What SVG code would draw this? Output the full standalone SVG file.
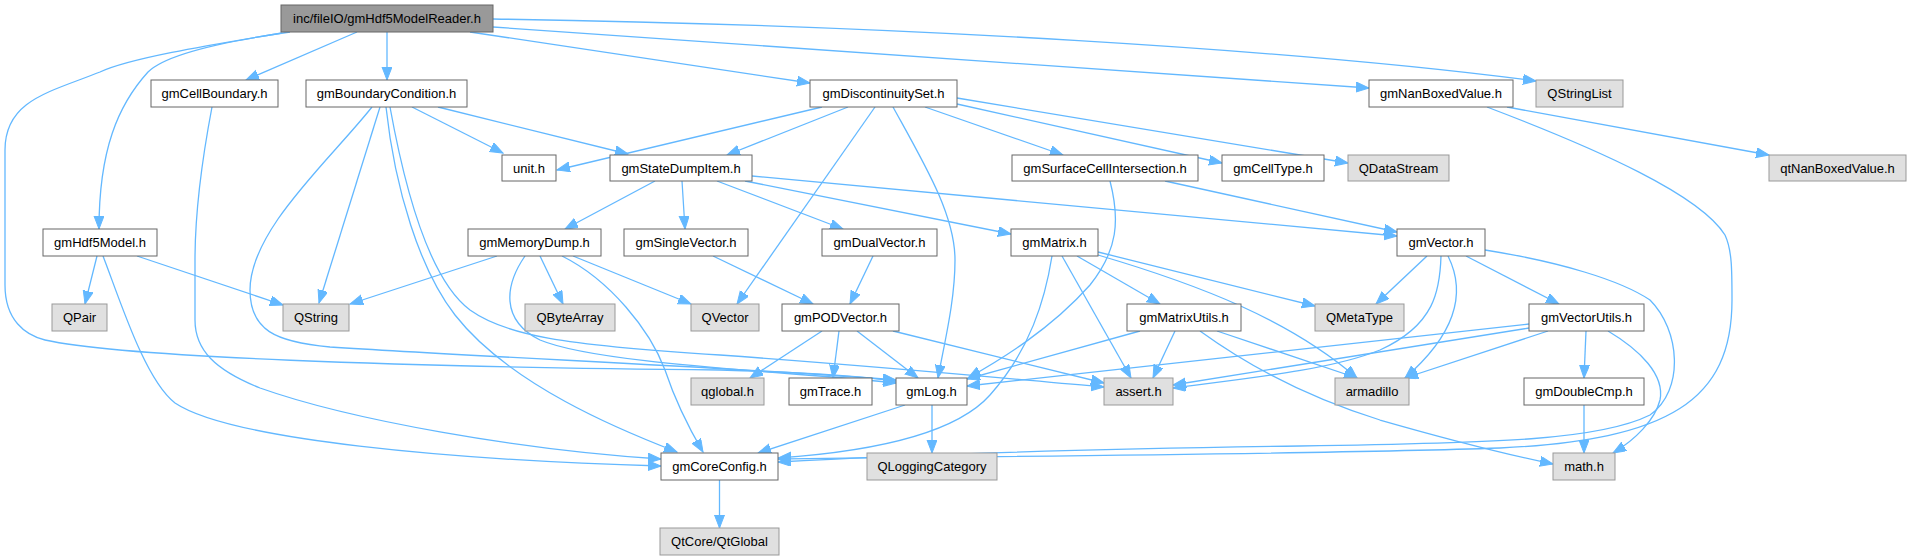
<svg xmlns="http://www.w3.org/2000/svg" width="1911" height="560" viewBox="0 0 1911 560">
<style>
.n rect{fill:#ffffff;stroke:#666666;stroke-width:1}
.x rect{fill:#e0e0e0;stroke:#999999;stroke-width:1}
.r rect{fill:#999999;stroke:#666666;stroke-width:1}
text{font-family:"Liberation Sans",Arial,sans-serif;font-size:13px;fill:#000000;text-anchor:middle}
#edges path{fill:none;stroke:#63b8ff;stroke-width:1.3;marker-end:url(#ah)}
</style>
<defs>
<marker id="ah" markerUnits="userSpaceOnUse" markerWidth="14" markerHeight="11" refX="13" refY="5" orient="auto">
<path d="M0,0 L13,5 L0,10 z" fill="#63b8ff" stroke="#63b8ff" stroke-width="1"/>
</marker>
</defs>
<rect width="1911" height="560" fill="#ffffff"/>
<g id="edges">
<path d="M290,32 C220,42 165,55 148,72 C118,105 99,150 99,229"/>
<path d="M282,33 C210,45 130,58 100,72 C50,92 5,100 5,150 L5,285 C5,320 25,335 45,340 C120,357 400,367 720,370 C800,372 860,376 896,381"/>
<path d="M357,32 L246,80"/>
<path d="M387,32 L387,80"/>
<path d="M470,32 L810,83"/>
<path d="M493,27 L1369,88"/>
<path d="M493,19 C900,25 1300,50 1536,81"/>
<path d="M212,107 C200,170 195,220 195,260 L195,320 C195,350 215,370 260,388 C350,420 520,450 661,459"/>
<path d="M412,107 L503,153"/>
<path d="M438,107 L628,154"/>
<path d="M380,107 L319,303"/>
<path d="M372,107 C330,160 250,230 250,290 C250,330 275,342 330,347 C500,358 750,368 896,380"/>
<path d="M386,107 C395,190 420,270 455,315 C510,385 620,430 677,452"/>
<path d="M390,107 C405,190 430,280 470,310 C505,335 560,345 720,355 C900,368 1000,378 1104,387"/>
<path d="M822,107 L557,170"/>
<path d="M848,107 L727,155"/>
<path d="M875,107 L737,304"/>
<path d="M893,107 C925,165 955,215 955,260 C955,300 945,340 938,378"/>
<path d="M925,107 L1063,155"/>
<path d="M957,104 L1222,163"/>
<path d="M957,98 L1348,163"/>
<path d="M1507,107 L1769,155"/>
<path d="M1487,107 C1600,150 1700,195 1725,235 C1732,250 1732,270 1732,300 C1732,400 1670,440 1500,448 C1300,455 900,457 778,459"/>
<path d="M655,181 L565,229"/>
<path d="M682,181 L685,229"/>
<path d="M717,181 L843,229"/>
<path d="M745,181 L1011,234"/>
<path d="M752,176 L1397,236"/>
<path d="M1110,181 C1120,220 1118,250 1090,285 C1050,330 1000,360 968,378"/>
<path d="M1165,181 L1397,232"/>
<path d="M97,256 L85,304"/>
<path d="M137,256 L283,305"/>
<path d="M103,256 C120,300 145,380 175,403 C230,440 450,460 661,466"/>
<path d="M497,256 L350,304"/>
<path d="M540,256 L563,304"/>
<path d="M573,256 L691,304"/>
<path d="M525,256 C505,285 500,320 540,340 C600,365 800,372 896,383"/>
<path d="M562,256 C610,280 650,330 665,370 C675,400 690,430 703,452"/>
<path d="M713,256 L813,304"/>
<path d="M873,256 L850,304"/>
<path d="M1077,256 L1160,304"/>
<path d="M1062,256 L1131,378"/>
<path d="M1098,252 L1315,306"/>
<path d="M1098,255 C1200,285 1290,320 1357,378"/>
<path d="M1052,256 C1045,300 1030,350 990,395 C950,440 850,453 778,458"/>
<path d="M1427,256 L1376,304"/>
<path d="M1441,256 C1440,290 1435,325 1380,350 C1330,370 1250,378 1173,388"/>
<path d="M1448,256 C1465,290 1460,330 1405,378"/>
<path d="M1466,256 L1559,304"/>
<path d="M1485,250 C1560,262 1620,280 1650,300 C1680,330 1685,390 1650,415 C1600,440 1500,443 1300,446 C1100,449 900,455 778,462"/>
<path d="M822,331 L750,378"/>
<path d="M839,331 L833,378"/>
<path d="M857,331 L918,378"/>
<path d="M893,331 L1104,383"/>
<path d="M1140,331 L967,379"/>
<path d="M1175,331 L1153,378"/>
<path d="M1217,331 L1357,378"/>
<path d="M1200,331 C1240,360 1300,395 1380,420 C1450,440 1510,455 1553,464"/>
<path d="M1529,324 L967,386"/>
<path d="M1529,328 L1173,385"/>
<path d="M1548,331 L1405,378"/>
<path d="M1586,331 L1584,378"/>
<path d="M1608,331 C1640,350 1665,375 1660,400 C1655,420 1635,440 1613,453"/>
<path d="M1584,405 L1584,453"/>
<path d="M905,405 L758,453"/>
<path d="M932,405 L932,453"/>
<path d="M719.5,480 L719.5,528"/>
</g>
<g id="root" class="r"><rect x="281" y="5" width="212" height="27"/><text x="387" y="23">inc/fileIO/gmHdf5ModelReader.h</text></g>
<g id="gmCellBoundary" class="n"><rect x="151" y="80" width="127" height="27"/><text x="214.5" y="98">gmCellBoundary.h</text></g>
<g id="gmBoundaryCondition" class="n"><rect x="306" y="80" width="161" height="27"/><text x="386.5" y="98">gmBoundaryCondition.h</text></g>
<g id="gmDiscontinuitySet" class="n"><rect x="810" y="80" width="147" height="27"/><text x="883.5" y="98">gmDiscontinuitySet.h</text></g>
<g id="gmNanBoxedValue" class="n"><rect x="1369" y="80" width="144" height="27"/><text x="1441" y="98">gmNanBoxedValue.h</text></g>
<g id="QStringList" class="x"><rect x="1536" y="80" width="87" height="27"/><text x="1579.5" y="98">QStringList</text></g>
<g id="unit" class="n"><rect x="502" y="155" width="54" height="26"/><text x="529" y="173">unit.h</text></g>
<g id="gmStateDumpItem" class="n"><rect x="610" y="155" width="142" height="26"/><text x="681" y="173">gmStateDumpItem.h</text></g>
<g id="gmSurfaceCellIntersection" class="n"><rect x="1012" y="155" width="186" height="26"/><text x="1105" y="173">gmSurfaceCellIntersection.h</text></g>
<g id="gmCellType" class="n"><rect x="1222" y="155" width="102" height="26"/><text x="1273" y="173">gmCellType.h</text></g>
<g id="QDataStream" class="x"><rect x="1348" y="155" width="101" height="26"/><text x="1398.5" y="173">QDataStream</text></g>
<g id="qtNanBoxedValue" class="x"><rect x="1769" y="155" width="137" height="26"/><text x="1837.5" y="173">qtNanBoxedValue.h</text></g>
<g id="gmHdf5Model" class="n"><rect x="43" y="229" width="114" height="27"/><text x="100" y="247">gmHdf5Model.h</text></g>
<g id="gmMemoryDump" class="n"><rect x="468" y="229" width="133" height="27"/><text x="534.5" y="247">gmMemoryDump.h</text></g>
<g id="gmSingleVector" class="n"><rect x="624" y="229" width="124" height="27"/><text x="686" y="247">gmSingleVector.h</text></g>
<g id="gmDualVector" class="n"><rect x="822" y="229" width="115" height="27"/><text x="879.5" y="247">gmDualVector.h</text></g>
<g id="gmMatrix" class="n"><rect x="1011" y="229" width="87" height="27"/><text x="1054.5" y="247">gmMatrix.h</text></g>
<g id="gmVector" class="n"><rect x="1397" y="229" width="88" height="27"/><text x="1441" y="247">gmVector.h</text></g>
<g id="QPair" class="x"><rect x="52" y="304" width="55" height="27"/><text x="79.5" y="322">QPair</text></g>
<g id="QString" class="x"><rect x="283" y="304" width="66" height="27"/><text x="316" y="322">QString</text></g>
<g id="QByteArray" class="x"><rect x="525" y="304" width="90" height="27"/><text x="570" y="322">QByteArray</text></g>
<g id="QVector" class="x"><rect x="691" y="304" width="68" height="27"/><text x="725" y="322">QVector</text></g>
<g id="gmPODVector" class="n"><rect x="782" y="304" width="117" height="27"/><text x="840.5" y="322">gmPODVector.h</text></g>
<g id="gmMatrixUtils" class="n"><rect x="1127" y="304" width="114" height="27"/><text x="1184" y="322">gmMatrixUtils.h</text></g>
<g id="QMetaType" class="x"><rect x="1315" y="304" width="89" height="27"/><text x="1359.5" y="322">QMetaType</text></g>
<g id="gmVectorUtils" class="n"><rect x="1529" y="304" width="115" height="27"/><text x="1586.5" y="322">gmVectorUtils.h</text></g>
<g id="qglobal" class="x"><rect x="691" y="378" width="73" height="27"/><text x="727.5" y="396">qglobal.h</text></g>
<g id="gmTrace" class="n"><rect x="789" y="378" width="83" height="27"/><text x="830.5" y="396">gmTrace.h</text></g>
<g id="gmLog" class="n"><rect x="896" y="378" width="71" height="27"/><text x="931.5" y="396">gmLog.h</text></g>
<g id="assert" class="x"><rect x="1104" y="378" width="69" height="27"/><text x="1138.5" y="396">assert.h</text></g>
<g id="armadillo" class="x"><rect x="1335" y="378" width="74" height="27"/><text x="1372" y="396">armadillo</text></g>
<g id="gmDoubleCmp" class="n"><rect x="1524" y="378" width="120" height="27"/><text x="1584" y="396">gmDoubleCmp.h</text></g>
<g id="gmCoreConfig" class="n"><rect x="661" y="453" width="117" height="27"/><text x="719.5" y="471">gmCoreConfig.h</text></g>
<g id="QLoggingCategory" class="x"><rect x="867" y="453" width="130" height="27"/><text x="932" y="471">QLoggingCategory</text></g>
<g id="math" class="x"><rect x="1553" y="453" width="62" height="27"/><text x="1584" y="471">math.h</text></g>
<g id="QtGlobal" class="x"><rect x="660" y="528" width="119" height="27"/><text x="719.5" y="546">QtCore/QtGlobal</text></g>
</svg>
